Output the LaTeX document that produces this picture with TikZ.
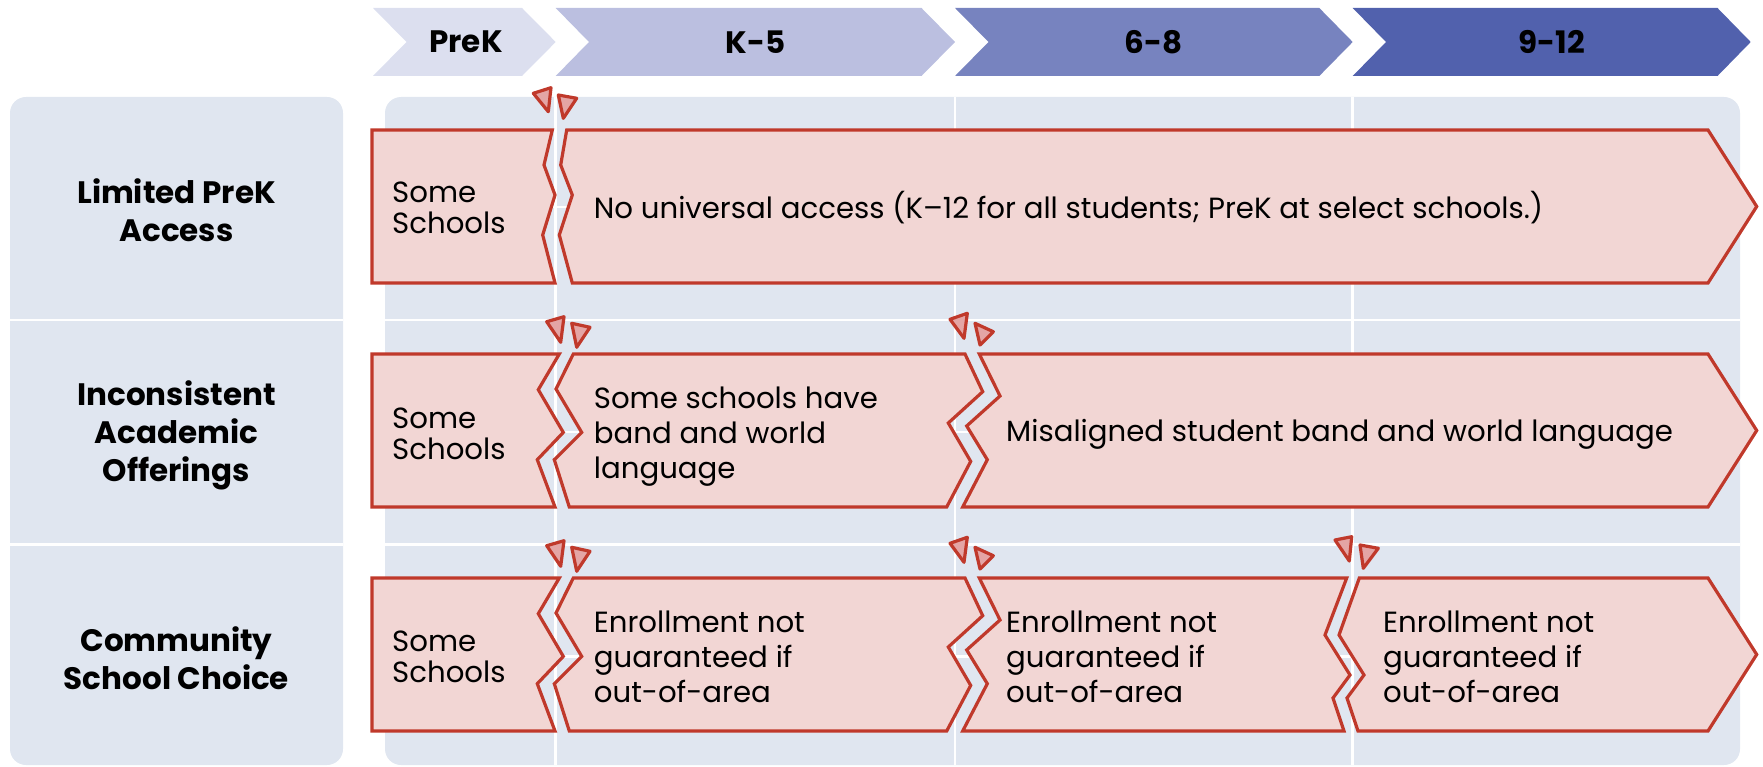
\documentclass[tikz,border=0pt]{standalone}
\usepackage{fontspec}
\setmainfont{Poppins}
\definecolor{panelc}{RGB}{224,230,240}
\definecolor{pinkc}{RGB}{242,214,212}
\definecolor{redc}{RGB}{192,57,43}
\definecolor{markc}{RGB}{228,165,165}
\definecolor{hdrA}{RGB}{220,223,239}
\definecolor{hdrB}{RGB}{187,191,224}
\definecolor{hdrC}{RGB}{119,131,191}
\definecolor{hdrD}{RGB}{81,97,173}
\begin{document}
\begin{tikzpicture}[x=1pt,y=-1pt]
\tikzset{
  panel/.style={fill=panelc, draw=none, rounded corners=16pt},
  wline/.style={draw=white, line width=2.5pt},
  pinkbox/.style={fill=pinkc, draw=redc, line width=3.2pt, line join=miter, miter limit=10},
  marker/.style={fill=markc, draw=redc, line width=3.2pt, line join=round},
  hdrtext/.style={font=\fontsize{31}{36}\selectfont\bfseries, text=black, inner sep=0pt},
  bodytext/.style={font=\fontsize{29.2}{35}\selectfont, anchor=west, align=left, inner sep=0pt, text=black},
  shorttext/.style={font=\fontsize{29.2}{31}\selectfont, anchor=west, align=left, inner sep=0pt, text=black},
  labeltext/.style={font=\fontsize{31}{38}\selectfont\bfseries, align=center, inner sep=0pt, text=black},
}
\useasboundingbox (0,0) rectangle (1763,767);
% header chevrons
\fill[hdrA] (373,8) -- (522,8) -- (555.7,42) -- (522,76) -- (373,76) -- (406.5,42) -- cycle;
\fill[hdrB] (555.7,8) -- (921.5,8) -- (955,42) -- (921.5,76) -- (555.7,76) -- (589,42) -- cycle;
\fill[hdrC] (955,8) -- (1319.3,8) -- (1352.7,42) -- (1319.3,76) -- (955,76) -- (988.5,42) -- cycle;
\fill[hdrD] (1352.7,8) -- (1717.5,8) -- (1750.7,42) -- (1717.5,76) -- (1352.7,76) -- (1386,42) -- cycle;
\node[hdrtext] (hPreK) at (466,42) {PreK};
\node[hdrtext] (hK5) at (755.3,42) {K-5};
\node[hdrtext] (h68) at (1153.8,42) {6-8};
\node[hdrtext] (h912) at (1551.7,42) {9-12};
% panels
\fill[panel] (10,97) rectangle (343,765);
\fill[panel] (385,97) rectangle (1740,765);
% grid lines
\draw[wline] (10,320) -- (343,320);
\draw[wline] (10,544.3) -- (343,544.3);
\draw[wline] (385,320) -- (1740,320);
\draw[wline] (385,544.3) -- (1740,544.3);
\draw[wline] (385,207) -- (1740,207);
\draw[wline] (385,432) -- (1740,432);
\draw[wline] (385,656.5) -- (1740,656.5);
\draw[wline] (555.7,97) -- (555.7,765);
\draw[wline] (955,97) -- (955,765);
\draw[wline] (1352.7,97) -- (1352.7,765);
% row labels
\node[labeltext] (lab1) at (176.5,210) {Limited PreK\\Access};
\node[labeltext] (lab2) at (176.5,435) {Inconsistent\\Academic\\Offerings};
\node[labeltext] (lab3) at (176.5,658) {Community\\School Choice};
% row 1
\draw[pinkbox] (372,130) -- (552.3,130) -- (544,165) -- (555,195) -- (542.7,235) -- (555,283) -- (372,283) -- cycle;
\draw[pinkbox] (566.7,130) -- (1708,130) -- (1756.7,206.5) -- (1708,283) -- (572.3,283) -- (559.3,235) -- (572.3,195) -- (560.7,165) -- cycle;
% row 2
\draw[pinkbox] (372,354) -- (559.3,354) -- (538.3,389.7) -- (563.3,432.4) -- (537.3,459.7) -- (555,507) -- (372,507) -- cycle;
\draw[pinkbox] (573.3,354) -- (965,354) -- (982.7,391.7) -- (948.3,423) -- (970.7,461.4) -- (946.7,507) -- (569.3,507) -- (554.3,459.7) -- (581.7,432.4) -- (556,389) -- cycle;
\draw[pinkbox] (979.3,354) -- (1708,354) -- (1756.7,430.5) -- (1708,507) -- (962.7,507) -- (987.3,459.7) -- (966.7,426) -- (1000,396) -- cycle;
% row 3
\draw[pinkbox] (372,578) -- (559.3,578) -- (538.3,613.7) -- (563.3,656.4) -- (537.3,683.7) -- (555,731) -- (372,731) -- cycle;
\draw[pinkbox] (573.3,578) -- (965,578) -- (982.7,615.7) -- (948.3,647) -- (970.7,685.4) -- (946.7,731) -- (569.3,731) -- (554.3,683.7) -- (581.7,656.4) -- (556,613) -- cycle;
\draw[pinkbox] (979.3,578) -- (1346.7,578) -- (1325,635) -- (1350,675) -- (1333,698) -- (1344,731) -- (962.7,731) -- (987.3,683.7) -- (966.7,650) -- (1000,620) -- cycle;
\draw[pinkbox] (1359.3,578) -- (1708,578) -- (1756.7,654.5) -- (1708,731) -- (1358,731) -- (1347,698) -- (1364,675) -- (1339,635) -- cycle;
% break markers
\draw[marker] (533.3,93.3) -- (551,87.7) -- (548.3,111.7) -- cycle;
\draw[marker] (558.3,95) -- (576.7,98.3) -- (563.3,118.3) -- cycle;
\draw[marker] (546.7,321.7) -- (564,316.7) -- (560.7,342.3) -- cycle;
\draw[marker] (571.7,323.3) -- (590,327.3) -- (576.7,347.3) -- cycle;
\draw[marker] (950,319.3) -- (967.3,313.3) -- (964,338.3) -- cycle;
\draw[marker] (975,323.3) -- (993.3,331.7) -- (980,345) -- cycle;
\draw[marker] (546.7,545.7) -- (564,540.7) -- (560.7,566.3) -- cycle;
\draw[marker] (571.7,547.3) -- (590,551.3) -- (576.7,571.3) -- cycle;
\draw[marker] (950,543.3) -- (967.3,537.3) -- (964,562.3) -- cycle;
\draw[marker] (975,547.3) -- (993.3,555.7) -- (980,569) -- cycle;
\draw[marker] (1335,540) -- (1351.7,536.7) -- (1349.3,561) -- cycle;
\draw[marker] (1360,545) -- (1378.3,548.3) -- (1363.3,568.3) -- cycle;
% texts
\node[shorttext] (t1a) at (392,207.5) {Some\\Schools};
\node[bodytext] (t1b) at (593.7,207.5) {No universal access (K–12 for all students; PreK at select schools.)};
\node[shorttext] (t2a) at (392,434) {Some\\Schools};
\node[bodytext] (t2b) at (593.7,437) {Some schools have\\band and world\\language};
\node[bodytext] (t2c) at (1006,434) {Misaligned student band and world language};
\node[shorttext] (t3a) at (392,657) {Some\\Schools};
\node[bodytext] (t3b) at (593.7,657) {Enrollment not\\guaranteed if\\out-of-area};
\node[bodytext] (t3c) at (1006,657) {Enrollment not\\guaranteed if\\out-of-area};
\node[bodytext] (t3d) at (1383,657) {Enrollment not\\guaranteed if\\out-of-area};
\end{tikzpicture}
\end{document}
